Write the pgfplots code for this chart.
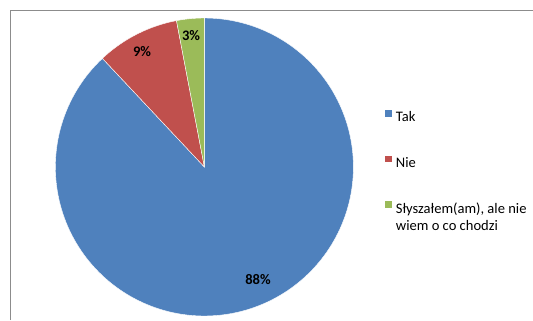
\documentclass[border=0pt]{standalone}
\usepackage{pgfplots}
\pgfplotsset{compat=1.18}
\usepackage{fontspec}
\setmainfont{Carlito}
\definecolor{cTak}{HTML}{4F81BD}
\definecolor{cNie}{HTML}{C0504D}
\definecolor{cSl}{HTML}{9BBB59}
\definecolor{cBorder}{HTML}{8C8C8C}
% shares (percent)
\def\vTak{88}
\def\vNie{9}
\def\vSl{3}
\begin{document}
\begin{tikzpicture}
\pgfmathsetmacro{\aA}{90}
\pgfmathsetmacro{\aB}{90-3.6*\vTak}
\pgfmathsetmacro{\aC}{\aB-3.6*\vNie}
\pgfmathsetmacro{\aD}{\aC-3.6*\vSl}
\begin{axis}[
  name=main,
  scale only axis,
  x=1bp, y=1bp,
  xmin=0, xmax=533, ymin=0, ymax=320,
  hide axis,
  clip=true,
  legend cell align=left,
  legend style={
    at={(axis cs:384,211)}, anchor=north west,
    draw=none, fill=none, inner sep=0pt, outer sep=0pt,
    font=\fontsize{14.6}{17.5}\selectfont,
    row sep=29bp,
    nodes={inner sep=0pt, text height=11bp, text depth=4bp},
    /tikz/every odd column/.append style={column sep=4bp},
  },
  legend image code/.code={\fill[#1] (0bp,1.5bp) rectangle (7.5bp,9bp);},
]
% border of chart area
\draw[cBorder, line width=1.5bp, line cap=butt] (axis cs:10.5,0) -- (axis cs:10.5,309.5) -- (axis cs:533,309.5);
\addplot[fill=cTak, draw=white, line width=0.4bp, domain=\aB:\aA, samples=181]
  ({204.4+149*cos(x)}, {153+149*sin(x)}) -- (axis cs:204.4,153) -- cycle;
\addlegendentry{Tak}
\addplot[fill=cNie, draw=white, line width=0.4bp, domain=\aC:\aB, samples=40]
  ({204.4+149*cos(x)}, {153+149*sin(x)}) -- (axis cs:204.4,153) -- cycle;
\addlegendentry{Nie}
\addplot[fill=cSl, draw=white, line width=0.4bp, domain=\aD:\aC, samples=20]
  ({204.4+149*cos(x)}, {153+149*sin(x)}) -- (axis cs:204.4,153) -- cycle;
\addlegendentry{\begin{tabular}[t]{@{}l@{}}Słyszałem(am), ale nie\\wiem o co chodzi\end{tabular}}
\node[font=\fontsize{14.6}{17.5}\selectfont\bfseries] at (axis cs:258,40) {88\%};
\node[font=\fontsize{14.6}{17.5}\selectfont\bfseries] at (axis cs:142,268) {9\%};
\node[font=\fontsize{14.6}{17.5}\selectfont\bfseries] at (axis cs:191,284) {3\%};
\end{axis}
\pgfresetboundingbox
\path[use as bounding box] (main.south west) rectangle (main.north east);
\end{tikzpicture}
\end{document}
